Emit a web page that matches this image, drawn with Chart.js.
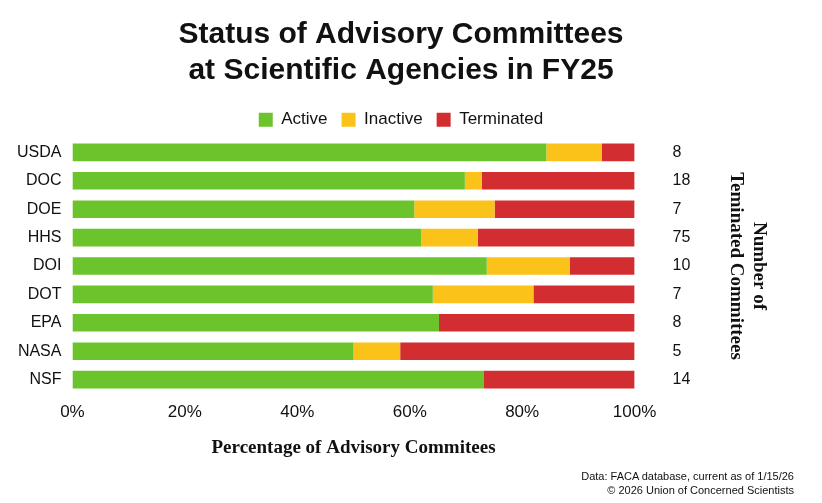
<!DOCTYPE html>
<html>
<head>
<meta charset="utf-8">
<script src="https://cdn.jsdelivr.net/npm/chart.js@4"></script>
<style>
  body { margin: 0; background: #fff; }
  #wrap { position: relative; width: 822px; height: 503px; }
  #source { position: absolute; right: 28px; bottom: 6px; font: 11px "Liberation Sans", Arial, sans-serif; text-align: right; line-height: 14px; color: #111; }
</style>
</head>
<body>
<div id="wrap">
  <canvas id="chart" width="822" height="503"></canvas>
  <div id="source">Data: FACA database, current as of 1/15/26<br>© 2026 Union of Concerned Scientists</div>
</div>
<script>
const agencies = ['USDA', 'DOC', 'DOE', 'HHS', 'DOI', 'DOT', 'EPA', 'NASA', 'NSF'];
const activePct = [84.3, 69.8, 60.8, 62.0, 73.7, 64.1, 65.2, 50.0, 73.1];
const inactivePct = [9.9, 3.0, 14.3, 10.1, 14.8, 17.9, 0, 8.3, 0];
const terminatedPct = [5.8, 27.2, 24.9, 27.9, 11.5, 18.0, 34.8, 41.7, 26.9];
const terminatedCount = ['8', '18', '7', '75', '10', '7', '8', '5', '14'];

const font = '"Liberation Sans", Arial, sans-serif';

new Chart(document.getElementById('chart').getContext('2d'), {
    type: 'bar',
    data: {
        labels: agencies,
        datasets: [
            { label: 'Active', data: activePct, backgroundColor: '#6cc42c' },
            { label: 'Inactive', data: inactivePct, backgroundColor: '#fbc21a' },
            { label: 'Terminated', data: terminatedPct, backgroundColor: '#d22e32' }
        ]
    },
    options: {
        indexAxis: 'y',
        responsive: false,
        animation: false,
        layout: { padding: { left: 14, right: 34, top: 4, bottom: 40 } },
        datasets: { bar: { categoryPercentage: 1, barPercentage: 0.62 } },
        scales: {
            x: {
                stacked: true, min: 0, max: 100,
                ticks: { stepSize: 20, callback: v => v + '%', color: '#111', padding: 0, font: { family: font, size: 17 } },
                grid: { display: false },
                border: { display: false },
                title: { display: true, text: 'Percentage of Advisory Commitees', color: '#111',
                    font: { family: '"Liberation Serif", serif', size: 19, weight: 'bold' }, padding: { top: 14 } }
            },
            y: {
                stacked: true,
                ticks: { color: '#111', font: { family: font, size: 16 } },
                grid: { display: false },
                border: { display: false }
            },
            y2: {
                position: 'right',
                type: 'category',
                labels: terminatedCount,
                offset: true,
                ticks: { color: '#111', padding: 30, font: { family: font, size: 16 } },
                grid: { display: false },
                border: { display: false },
                title: { display: true, text: ['Number of', 'Teminated Committees'], color: '#111',
                    font: { family: '"Liberation Serif", serif', size: 19, weight: 'bold' }, padding: { top: 18 } }
            }
        },
        plugins: {
            title: {
                display: true,
                text: ['Status of Advisory Committees', 'at Scientific Agencies in FY25'],
                color: '#111',
                font: { family: font, size: 30, weight: 'bold', lineHeight: 1.22 },
                padding: { top: 12, bottom: 8 }
            },
            legend: {
                position: 'top',
                labels: { boxWidth: 14, boxHeight: 14, color: '#111', padding: 14, font: { family: font, size: 17 } }
            },
            tooltip: { enabled: false }
        }
    }
});
</script>
</body>
</html>
